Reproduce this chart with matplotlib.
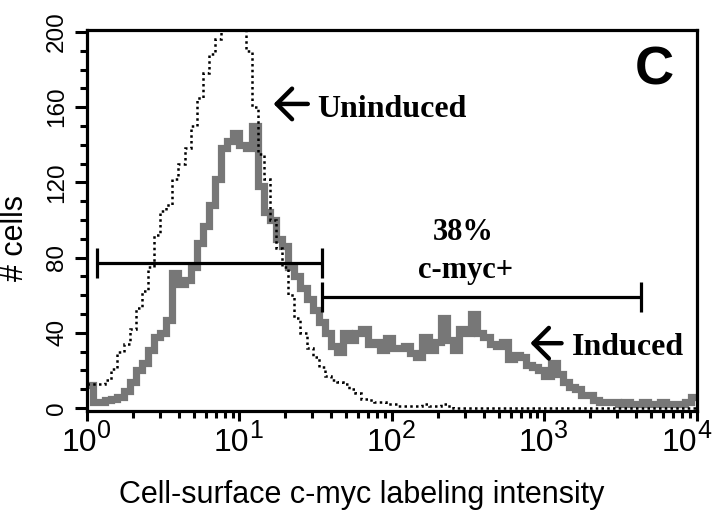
import numpy as np
import matplotlib
matplotlib.use("Agg")
import matplotlib.pyplot as plt
from matplotlib.ticker import FixedLocator, NullFormatter, LogLocator, MultipleLocator
import matplotlib.transforms as mtransforms

# histogram channels: 100 bins, 0.04 decade each, from 10^0 to 10^4
n_bins = 100
decade_edges = np.linspace(0, 4, n_bins + 1)
edges = 10 ** decade_edges

# induced cells (gray)
induced = [12, 3, 3, 4, 5, 6, 9, 14, 20, 24,
           31, 38, 40, 47, 72, 66, 68, 75, 88, 97,
           108, 122, 138, 142, 146, 140, 138, 150, 118, 104,
           100, 90, 86, 75, 70, 64, 58, 52, 46, 40,
           33, 30, 40, 36, 40, 42, 34, 35, 31, 37,
           32, 32, 33, 29, 27, 38, 31, 35, 48, 36,
           31, 42, 40, 50, 40, 38, 34, 33, 35, 26,
           28, 27, 23, 22, 20, 17, 24, 18, 14, 11,
           10, 7, 7, 4, 3, 3, 3, 2, 3, 2,
           2, 3, 2, 2, 3, 2, 2, 2, 3, 6]

# uninduced cells (black dotted)
uninduced = [13, 13, 13, 15, 21, 30, 34, 42, 53, 62,
             75, 92, 105, 108, 122, 130, 138, 150, 165, 178,
             188, 196, 205, 210, 210, 205, 190, 160, 135, 122,
             100, 85, 75, 60, 48, 40, 32, 27, 22, 17,
             15, 14, 13, 10, 8, 5, 4, 3, 3, 2,
             2, 1, 1, 1, 1, 2, 1, 1, 2, 1,
             0, 0, 0, 0, 0, 0, 0, 0, 0, 0,
             0, 0, 0, 0, 0, 0, 0, 0, 0, 0,
             0, 0, 0, 0, 0, 0, 0, 0, 0, 0,
             0, 0, 0, 0, 0, 0, 0, 0, 0, 0]

# gates (intensity ranges) and their heights
gate_neg = (1.16, 35.0, 77)
gate_pos = (35.0, 4300.0, 59)
pct_positive = "38%"

y_ticks = [0, 40, 80, 120, 160, 200]
decades = [0, 1, 2, 3, 4]

sans = ["Liberation Sans", "DejaVu Sans"]
serif = ["Liberation Serif", "DejaVu Serif"]

fig = plt.figure(figsize=(7.13, 5.15), dpi=100)
ax = fig.add_axes([0.1220, 0.2019, 0.8555, 0.7398])

ax.stairs(induced, edges, color="#777777", lw=5.2, baseline=None)
ax.stairs(uninduced, edges, color="black", lw=1.8, linestyle=(0, (1, 1.3)), baseline=None)

# gate bars
cap = 8
for lo, hi, h in [gate_neg, gate_pos]:
    ax.plot([lo, hi], [h, h], color="black", lw=2.3, solid_capstyle="butt")
    ax.plot([lo, lo], [h - cap, h + cap], color="black", lw=2.3, solid_capstyle="butt")
    ax.plot([hi, hi], [h - cap, h + cap], color="black", lw=2.3, solid_capstyle="butt")

ax.set_xscale("log")
ax.set_xlim(1, 1e4)
ax.set_ylim(-1.6, 201)

for s in ax.spines.values():
    s.set_linewidth(2.3)

ax.xaxis.set_major_locator(FixedLocator([10 ** d for d in decades]))
ax.xaxis.set_minor_locator(LogLocator(base=10, subs=np.arange(2, 10)))
ax.xaxis.set_major_formatter(NullFormatter())
ax.xaxis.set_minor_formatter(NullFormatter())
ax.yaxis.set_major_locator(FixedLocator(y_ticks))
ax.yaxis.set_minor_locator(MultipleLocator(10))
ax.tick_params(axis="both", which="major", direction="out", width=2.2, length=7)
ax.tick_params(axis="both", which="minor", direction="out", width=2.2, length=5)
ax.tick_params(axis="y", which="major", length=8.5)
ax.set_yticklabels([str(v) for v in y_ticks], rotation=90, va="center",
                   fontsize=17.5, family=sans)
ax.tick_params(axis="y", pad=5)

# x tick labels as 10 with superscript exponent
trans = mtransforms.blended_transform_factory(ax.transData, ax.transAxes)
for d in decades:
    shift = 10 if d < decades[-1] else 0
    off = trans + mtransforms.ScaledTranslation(shift / 100, 0, fig.dpi_scale_trans)
    ax.text(10 ** d, -0.045, "10", transform=off, ha="right", va="top",
            fontsize=23, family=sans, clip_on=False)
    ax.text(10 ** d, -0.02, str(d), transform=off, ha="left", va="top",
            fontsize=18, family=sans, clip_on=False)

ax.set_xlabel("Cell-surface c-myc labeling intensity", fontsize=22, family=sans)
ax.xaxis.set_label_coords(0.45, -0.18)
ax.set_ylabel("# cells", fontsize=22, family=sans)
ax.yaxis.set_label_coords(-0.093, 0.454)

# annotations
ax.text(0.93, 0.893, "C", transform=ax.transAxes, ha="center", va="center",
        fontsize=39, fontweight="bold", family=sans)

arrow = dict(arrowstyle="->,head_length=0.55,head_width=0.55", lw=3.2, color="black",
             mutation_scale=20, shrinkA=0, shrinkB=0)
ax.annotate("", xy=(0.306, 0.806), xytext=(0.362, 0.806), xycoords="axes fraction",
            arrowprops=arrow)
ax.text(0.377, 0.772, "Uninduced", transform=ax.transAxes, ha="left", va="baseline",
        fontsize=23, fontweight="bold", family=serif)

ax.annotate("", xy=(0.727, 0.178), xytext=(0.778, 0.178), xycoords="axes fraction",
            arrowprops=arrow)
ax.text(0.795, 0.147, "Induced", transform=ax.transAxes, ha="left", va="baseline",
        fontsize=23, fontweight="bold", family=serif)

ax.text(0.617, 0.448, pct_positive, transform=ax.transAxes, ha="center", va="baseline",
        fontsize=22, fontweight="bold", family=serif)
ax.text(0.62, 0.349, "c-myc+", transform=ax.transAxes, ha="center", va="baseline",
        fontsize=22, fontweight="bold", family=serif)

fig.savefig("out.png", dpi=100)
